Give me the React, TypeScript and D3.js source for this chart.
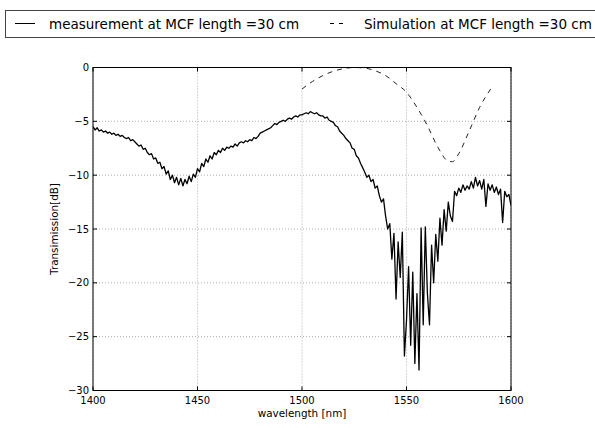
import * as d3 from "d3";

// measured transmission, 1 nm steps from 1400 to 1600 nm
const measStart = 1400;
const measStep = 1;
const measured = [
  -5.5, -5.8, -5.6, -5.9, -5.8, -6.0, -5.9, -6.1, -6.0, -6.2,
  -6.1, -6.3, -6.2, -6.4, -6.3, -6.5, -6.6, -6.5, -6.8, -6.7,
  -6.9, -7.1, -7.3, -7.2, -7.6, -7.5, -7.9, -8.1, -8.0, -8.5,
  -8.4, -8.9, -8.8, -9.4, -9.2, -9.9, -9.6, -10.4, -10.0, -10.7,
  -10.2, -10.9, -10.3, -11.0, -10.4, -10.8, -10.1, -10.6, -9.9, -10.2,
  -9.4, -9.7, -8.9, -9.2, -8.5, -8.8, -8.2, -8.5, -7.9, -8.1,
  -7.7, -7.9, -7.5, -7.7, -7.4, -7.5, -7.3, -7.4, -7.1, -7.3,
  -7.0, -6.9, -7.0, -6.8, -6.9, -6.7, -6.8, -6.5, -6.6, -6.4,
  -6.1, -6.0, -5.9, -5.8, -5.7, -5.6, -5.4, -5.2, -5.3, -5.1,
  -5.0, -4.9, -5.0, -4.8, -4.7, -4.8, -4.6, -4.5, -4.6, -4.4,
  -4.4, -4.3, -4.2, -4.3, -4.1, -4.2, -4.3, -4.2, -4.4, -4.5,
  -4.5, -4.7, -4.6, -4.9, -5.0, -5.1, -5.4, -5.5, -5.9, -6.1,
  -6.3, -6.6, -6.8, -7.0, -7.5, -7.6, -8.2, -8.4, -8.9, -9.3,
  -9.7, -10.2, -10.0, -10.6, -10.4, -11.2, -11.0, -11.9, -12.5, -12.2,
  -13.8, -15.0, -14.5, -17.8, -15.4, -21.5, -16.2, -19.5, -15.3, -26.8,
  -23.5, -18.5, -25.8, -19.0, -27.5, -21.0, -28.1, -14.9, -23.9, -14.8,
  -21.0, -23.9, -16.5, -20.0, -15.5, -18.0, -14.0, -16.5, -13.2, -15.2,
  -12.5, -13.8, -14.3, -11.5, -11.9, -11.2, -11.6, -10.9, -11.4, -11.0,
  -11.3, -10.6, -11.2, -10.2, -11.0, -10.5, -11.3, -10.4, -12.9, -10.8,
  -11.4, -10.9, -11.6, -11.1, -11.8, -11.3, -14.4, -11.5, -12.0, -11.8,
  -12.8,
];

// simulation
const simWl = [1500, 1505, 1510, 1515, 1520, 1525, 1530, 1535, 1540, 1545, 1550, 1555, 1560, 1565, 1570, 1572, 1575, 1580, 1585, 1591];
const simDb = [-2.0, -1.3, -0.75, -0.35, -0.1, 0.0, -0.05, -0.3, -0.75, -1.5, -2.3, -3.7, -5.4, -7.4, -8.7, -8.75, -8.0, -5.9, -3.7, -1.8];

const xTicks = [1400, 1450, 1500, 1550, 1600];
const yTicks = [0, -5, -10, -15, -20, -25, -30];

const legendLabels = ["measurement at MCF length =30 cm", "Simulation at MCF length =30 cm"];

const W = 595;
const H = 428;
const left = 93, right = 511, top = 67.5, bottom = 390.5;
const font = "DejaVu Sans, sans-serif";

export default function App() {
  const x = d3.scaleLinear().domain([1400, 1600]).range([left, right]);
  const y = d3.scaleLinear().domain([-30, 0]).range([bottom, top]);

  const measPts: [number, number][] = measured.map((v, i) => [measStart + i * measStep, v]);
  const simPts: [number, number][] = simWl.map((w, i) => [w, simDb[i]]);

  const line = d3.line<[number, number]>().x(d => x(d[0])).y(d => y(d[1]));
  const smooth = d3.line<[number, number]>().x(d => x(d[0])).y(d => y(d[1])).curve(d3.curveMonotoneX);

  const fmt = (v: number) => (v < 0 ? "\u2212" + Math.abs(v) : String(v));

  return (
    <svg width={W} height={H} style={{ position: "absolute", left: 0, top: 0 }} fontFamily={font}>
      <rect width={W} height={H} fill="#fff" />

      {/* legend */}
      <rect x={5.5} y={10.5} width={600} height={27} fill="#fff" stroke="#444" strokeWidth={1} />
      <line x1={15} x2={35} y1={23.5} y2={23.5} stroke="#000" strokeWidth={1} />
      <text x={49} y={28.5} fontSize={13.5} fill="#000">{legendLabels[0]}</text>
      <line x1={330} x2={343} y1={23.5} y2={23.5} stroke="#000" strokeWidth={1} strokeDasharray="4,5" />
      <text x={364} y={28.5} fontSize={13.5} fill="#000">{legendLabels[1]}</text>

      {/* grid */}
      <g stroke="#999" strokeWidth={0.8} strokeDasharray="1,2">
        {xTicks.map(t => (
          <line key={"gx" + t} x1={x(t)} x2={x(t)} y1={top} y2={bottom} />
        ))}
        {yTicks.map(t => (
          <line key={"gy" + t} x1={left} x2={right} y1={y(t)} y2={y(t)} />
        ))}
      </g>

      {/* data */}
      <g clipPath="url(#plotclip)">
        <path d={line(measPts) ?? ""} fill="none" stroke="#000" strokeWidth={1.3} strokeLinejoin="round" />
        <path d={smooth(simPts) ?? ""} fill="none" stroke="#222" strokeWidth={1} strokeDasharray="5,5" />
      </g>
      <defs>
        <clipPath id="plotclip">
          <rect x={left} y={top} width={right - left} height={bottom - top} />
        </clipPath>
      </defs>

      {/* frame and ticks */}
      <rect x={left} y={top} width={right - left} height={bottom - top} fill="none" stroke="#000" strokeWidth={1} />
      <g stroke="#000" strokeWidth={1}>
        {xTicks.map(t => (
          <g key={"tx" + t}>
            <line x1={x(t)} x2={x(t)} y1={bottom} y2={bottom - 4} />
            <line x1={x(t)} x2={x(t)} y1={top} y2={top + 4} />
          </g>
        ))}
        {yTicks.map(t => (
          <g key={"ty" + t}>
            <line x1={left} x2={left + 4} y1={y(t)} y2={y(t)} />
            <line x1={right} x2={right - 4} y1={y(t)} y2={y(t)} />
          </g>
        ))}
      </g>

      {/* tick labels */}
      <g fontSize={10} fill="#000">
        {xTicks.map(t => (
          <text key={"lx" + t} x={x(t)} y={bottom + 13} textAnchor="middle">{t}</text>
        ))}
        {yTicks.map(t => (
          <text key={"ly" + t} x={left - 4} y={y(t) + 3.6} textAnchor="end">{fmt(t)}</text>
        ))}
      </g>

      {/* axis labels */}
      <text x={(left + right) / 2} y={417} fontSize={10.4} textAnchor="middle">wavelength [nm]</text>
      <text transform={`translate(58,${(top + bottom) / 2}) rotate(-90)`} fontSize={10.4} textAnchor="middle">
        Transimission[dB]
      </text>
    </svg>
  );
}
